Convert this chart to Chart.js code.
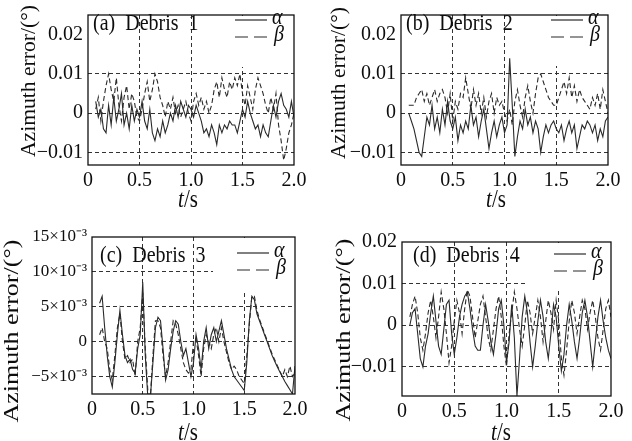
<!DOCTYPE html>
<html>
<head>
<meta charset="utf-8">
<script src="https://cdn.jsdelivr.net/npm/chart.js@4.4.1/dist/chart.umd.min.js"></script>
<style>
html, body { margin: 0; padding: 0; background: #fff; }
#wrap { position: relative; width: 632px; height: 441px; overflow: hidden; }
#wrap canvas { position: absolute; }
</style>
</head>
<body>
<div id="wrap">
  <canvas id="pa" width="316" height="215" style="left:0;top:0"></canvas>
  <canvas id="pb" width="316" height="215" style="left:316px;top:0"></canvas>
  <canvas id="pc" width="316" height="221" style="left:0;top:220px"></canvas>
  <canvas id="pd" width="316" height="221" style="left:316px;top:220px"></canvas>
</div>
<script>
// sample times (s), shared by all four panels
const times = [0.075,0.1,0.125,0.15,0.175,0.2,0.225,0.25,0.275,0.3,
  0.325,0.35,0.375,0.4,0.425,0.45,0.475,0.5,0.525,0.55,
  0.575,0.6,0.625,0.65,0.675,0.7,0.725,0.75,0.775,0.8,
  0.825,0.85,0.875,0.9,0.925,0.95,0.975,1.0,1.025,1.05,
  1.075,1.1,1.125,1.15,1.175,1.2,1.225,1.25,1.275,1.3,
  1.325,1.35,1.375,1.4,1.425,1.45,1.475,1.5,1.525,1.55,
  1.575,1.6,1.625,1.65,1.675,1.7,1.725,1.75,1.775,1.8,
  1.825,1.85,1.875,1.9,1.925,1.95,1.975,2.0];

// axis ticks (errors are stored in units of 1e-3 degree)
const xTicks = [0, 0.5, 1, 1.5, 2];
const xLabels = ['0', '0.5', '1.0', '1.5', '2.0'];
const yTicksDec = [-10, 0, 10, 20];
const yLabelsDec = ['\u22120.01', '0', '0.01', '0.02'];
const yTicksExp = [-5, 0, 5, 10, 15];
const yLabelsExp = ['\u22125\u00d710\u207b\u00b3', '0', '5\u00d710\u207b\u00b3', '10\u00d710\u207b\u00b3', '15\u00d710\u207b\u00b3'];

// (a) Debris 1
const alpha1 = [3,-1,1,-4,-5,2,-3,4,-2,1,
  5,-3,0,-4,2,-2,1,-1,3,-2,
  -4,1,-5,-7,-4,-6,-2,-5,-3,0,
  -2,2,-1,3,1,-1,2,1,-1,2,
  0,-2,-5,-4,-6,-3,-5,-8,-3,-5,
  -3,-4,-2,-3,-3,-5,-2,1,-1,3,
  0,-2,-4,-3,-6,-3,-5,-6,-2,2,
  -1,3,5,2,1,-1,3,-1];
const beta1 = [1,4,-2,3,7,10,6,3,9,2,
  -2,4,7,1,5,3,-1,-2,1,5,
  8,3,6,10,8,4,2,-1,3,1,
  4,0,2,-1,1,3,0,-2,3,5,
  2,4,1,3,0,2,6,8,4,9,
  6,4,8,6,9,7,10,5,2,7,
  4,1,6,9,7,5,2,0,4,1,
  5,-3,-7,-12,-9,-5,-3,0];

// (b) Debris 2
const alpha2 = [0,-2,-4,-7,-10,-11,-6,-1,-3,2,
  -4,-1,-5,1,-3,3,-2,-4,-1,-7,
  -3,-5,-2,-4,2,-3,-1,-6,-2,1,
  -4,-9,-5,-2,-6,-3,-1,-5,-3,14,
  2,-11,-6,-2,-4,1,-3,-1,-5,-2,
  -4,-10,-6,-3,-5,-3,-2,-4,-5,-3,
  -7,-4,-2,-5,-3,-9,-6,-3,-4,-2,
  -3,-5,-3,-7,-4,-6,-2,-1];
const beta2 = [2,2,2,4,5,6,3,5,2,4,
  6,3,5,6,4,0,5,-2,3,1,
  5,4,9,5,1,6,2,5,0,4,
  -1,3,5,0,4,2,3,0,-2,1,
  -3,3,6,2,-1,4,7,3,0,5,
  9,10,8,6,4,3,2,2,4,6,
  8,5,9,4,7,3,6,4,3,2,
  1,4,2,5,1,6,3,0];

// (c) Debris 3
const alpha3 = [5.5,6.5,2,-2,-5,-6.5,-3,1,4.5,1,
  -2,-3,-2.5,-4,-4.5,-1,1,8.5,-2,-8,
  -8,-3,2,3.5,3,-1,-5.5,-4,-1,1.5,
  3,2.5,0,-2,-1,-3,-5,-3,1,-1,
  -4,0,2,-1,1,2,0,1.5,3,1,
  -1,-2.5,-4,-5,-5.5,-6,-6.5,-7,-3,3,
  6.5,6,4,3,2,1,0,-1,-2,-2.8,
  -3.6,-4.3,-5,-5.7,-6.3,-6.9,-7.5,-3.5];
const beta3 = [1,2,0,-1,-4,-5.5,-2,2,4,0,
  -2.5,-2,-3,-2.5,-5,0,2,7,-1,-7,
  -8,-2,3,3,2,-2,-5,-3,0,3,
  2.5,1,-1,-3,-4,-4.5,-4,0,0.5,-2,
  -5,-1,1,0,-1,1,2,0,2,0,
  -1.5,-3,-4,-3.5,-4,-5,-5.5,-6,-2,2.5,
  6.5,6.5,4.5,3.2,2.2,1.2,0.2,-0.8,-1.8,-2.6,
  -3.4,-4.2,-5,-4,-5,-3.5,-5,-4.5];

// (d) Debris 4
const alpha4 = [0,3,4,-2,-8,-10,-5,-2,3,7,
  1,-5,-7,-1,5,6,-2,-7,-3,2,
  5,7,8,4,-1,-5,-6,-6,0,5,
  1,-4,-7,-2,4,6,0,-9,-4,5,
  -3,-17,-8,2,7,3,-4,-10,-5,1,
  6,2,-4,-8,-2,5,2,-5,-11,-7,
  0,5,1,-4,-8,-3,3,6,2,-4,
  -10,-4,2,6,1,-3,-6,-8];
const beta4 = [2,5,7,3,-3,-6,-2,3,6,2,
  -3,2,8,4,-2,-9,-5,1,6,3,
  -2,4,8.5,7,2,-3,1,5,7,2,
  -3,-6,-1,4,7,2,-5,-10,-2,3,
  8,4,-1,-5,0,6,3,-2,2,6,
  2,-4,1,6,3,-1,6,1,-8,-12,
  -6,1,6,3,-2,2,6,4,-1,3,
  6,2,-3,-6,-1,4,6,2];

const SERIF = '"Liberation Serif", "Times New Roman", serif';
const INK = '#0d0d0d';

// layout of each panel, in canvas-local pixels
const panels = [
  { id: 'pa', title: '(a)  Debris  1', alpha: alpha1, beta: beta1,
    yTicks: yTicksDec, yLabels: yLabelsDec, gridY: [-10, 0, 10], yMin: -13.2, yMax: 25,
    left: 88, padR: 22, top: 10, xAxisH: 50, yFont: 20,
    titleAt: [93, 30], legAt: [235, 20], yTitleAt: [30, 81], yTitleStretch: 1.08, xTitleAt: [188, 200], box: [222, 67] },
  { id: 'pb', title: '(b)  Debris  2', alpha: alpha2, beta: beta2,
    yTicks: yTicksDec, yLabels: yLabelsDec, gridY: [-10, 0, 10], yMin: -13.2, yMax: 25,
    left: 85, padR: 24, top: 10, xAxisH: 50, yFont: 20,
    titleAt: [90, 30], legAt: [235, 20], yTitleAt: [24, 83], yTitleStretch: 1.08, xTitleAt: [180, 200], box: [219, 66] },
  { id: 'pc', title: '(c)  Debris  3', alpha: alpha3, beta: beta3,
    yTicks: yTicksExp, yLabels: yLabelsExp, gridY: [-5, 0, 5, 10], yMin: -7.5, yMax: 15,
    left: 92, padR: 21, top: 17, xAxisH: 47, yFont: 17,
    titleAt: [100, 42], legAt: [237, 33], yTitleAt: [13, 111], yTitleStretch: 1.3, xTitleAt: [188, 213], box: [213, 72] },
  { id: 'pd', title: '(d)  Debris  4', alpha: alpha4, beta: beta4,
    yTicks: yTicksDec, yLabels: yLabelsDec, gridY: [-10, 0, 10], yMin: -17, yMax: 20,
    left: 86, padR: 21, top: 22, xAxisH: 45, yFont: 20,
    titleAt: [97, 42], legAt: [238, 34], yTitleAt: [29, 110], yTitleStretch: 1.3, xTitleAt: [185, 213], box: [212, 70] }
];

function stretched(ctx, txt, x, y, sy) {
  ctx.save();
  ctx.translate(x, y);
  ctx.scale(1, sy);
  ctx.fillText(txt, 0, 0);
  ctx.restore();
}

function decor(p) {
  return {
    id: 'decor',
    beforeDatasetsDraw(chart) {
      // legend area hides the grid behind it
      const { ctx, chartArea: a } = chart;
      ctx.save();
      ctx.fillStyle = '#fff';
      ctx.fillRect(p.box[0], a.top + 1, a.right - 1 - p.box[0], p.box[1] - a.top - 1);
      ctx.restore();
    },
    afterDatasetsDraw(chart) {
      const { ctx, chartArea: a } = chart;
      ctx.save();
      ctx.strokeStyle = '#111';
      ctx.lineWidth = 1.3;
      ctx.strokeRect(a.left, a.top, a.right - a.left, a.bottom - a.top);

      ctx.fillStyle = INK;
      ctx.textAlign = 'left';
      ctx.textBaseline = 'alphabetic';
      ctx.font = '20px ' + SERIF;
      stretched(ctx, p.title, p.titleAt[0], p.titleAt[1], 1.2);

      // legend
      const [lx, ly] = p.legAt;
      ctx.strokeStyle = '#2a2a2a';
      ctx.lineWidth = 1.2;
      ctx.beginPath(); ctx.moveTo(lx, ly); ctx.lineTo(lx + 32, ly); ctx.stroke();
      ctx.setLineDash([13, 6]);
      ctx.beginPath(); ctx.moveTo(lx, ly + 17); ctx.lineTo(lx + 32, ly + 17); ctx.stroke();
      ctx.setLineDash([]);
      ctx.font = 'italic 20px ' + SERIF;
      ctx.textBaseline = 'middle';
      stretched(ctx, '\u03b1', lx + 37, ly - 2, 1.2);
      stretched(ctx, '\u03b2', lx + 39, ly + 15, 1.2);

      // y title
      ctx.save();
      ctx.translate(p.yTitleAt[0], p.yTitleAt[1]);
      ctx.rotate(-Math.PI / 2);
      ctx.scale(p.yTitleStretch, 1);
      ctx.textAlign = 'center';
      ctx.font = '20px ' + SERIF;
      ctx.fillText('Azimuth error/(\u00b0)', 0, 0);
      ctx.restore();

      // x title: italic t
      ctx.font = 'italic 21px ' + SERIF;
      const w1 = ctx.measureText('t').width;
      ctx.font = '21px ' + SERIF;
      const w2 = ctx.measureText('/s').width;
      const x0 = p.xTitleAt[0] - (w1 + w2) / 2;
      ctx.textAlign = 'left';
      ctx.font = 'italic 21px ' + SERIF;
      stretched(ctx, 't', x0, p.xTitleAt[1], 1.2);
      ctx.font = '21px ' + SERIF;
      stretched(ctx, '/s', x0 + w1, p.xTitleAt[1], 1.2);
      ctx.restore();
    }
  };
}

function makePanel(p) {
  const pts = vals => times.map((t, i) => ({ x: t, y: vals[i] }));
  return new Chart(document.getElementById(p.id), {
    type: 'line',
    data: {
      datasets: [
        { label: '\u03b1', data: pts(p.alpha), borderColor: '#2a2a2a', borderWidth: 1.1, pointRadius: 0, tension: 0 },
        { label: '\u03b2', data: pts(p.beta), borderColor: '#2a2a2a', borderWidth: 1.1, pointRadius: 0, tension: 0, borderDash: [5, 3] }
      ]
    },
    options: {
      responsive: false,
      animation: false,
      events: [],
      layout: { padding: { left: 0, right: p.padR, top: p.top, bottom: 0 } },
      plugins: { legend: { display: false }, tooltip: { enabled: false } },
      scales: {
        x: {
          type: 'linear', min: 0, max: 2,
          afterBuildTicks: s => { s.ticks = xTicks.map(v => ({ value: v })); },
          afterFit: s => { s.height = p.xAxisH; },
          ticks: { callback: (v, i) => xLabels[i], autoSkip: false, maxRotation: 0, padding: 6, color: INK,
                   font: { family: SERIF, size: 20, lineHeight: 1 } },
          grid: { drawTicks: false, lineWidth: 1,
                  color: c => (c.tick && c.tick.value > 0 && c.tick.value < 2) ? '#333' : 'rgba(0,0,0,0)' },
          border: { display: false, dash: [4, 3] }
        },
        y: {
          type: 'linear', min: p.yMin, max: p.yMax,
          afterBuildTicks: s => { s.ticks = p.yTicks.map(v => ({ value: v })); },
          afterFit: s => { s.width = p.left; },
          ticks: { callback: (v, i) => p.yLabels[i], autoSkip: false, padding: 5, color: INK,
                   font: { family: SERIF, size: p.yFont, lineHeight: 1 } },
          grid: { drawTicks: false, lineWidth: 1,
                  color: c => (c.tick && p.gridY.includes(c.tick.value)) ? '#333' : 'rgba(0,0,0,0)' },
          border: { display: false, dash: [4, 3] }
        }
      }
    },
    plugins: [decor(p)]
  });
}

panels.forEach(makePanel);
</script>
</body>
</html>
